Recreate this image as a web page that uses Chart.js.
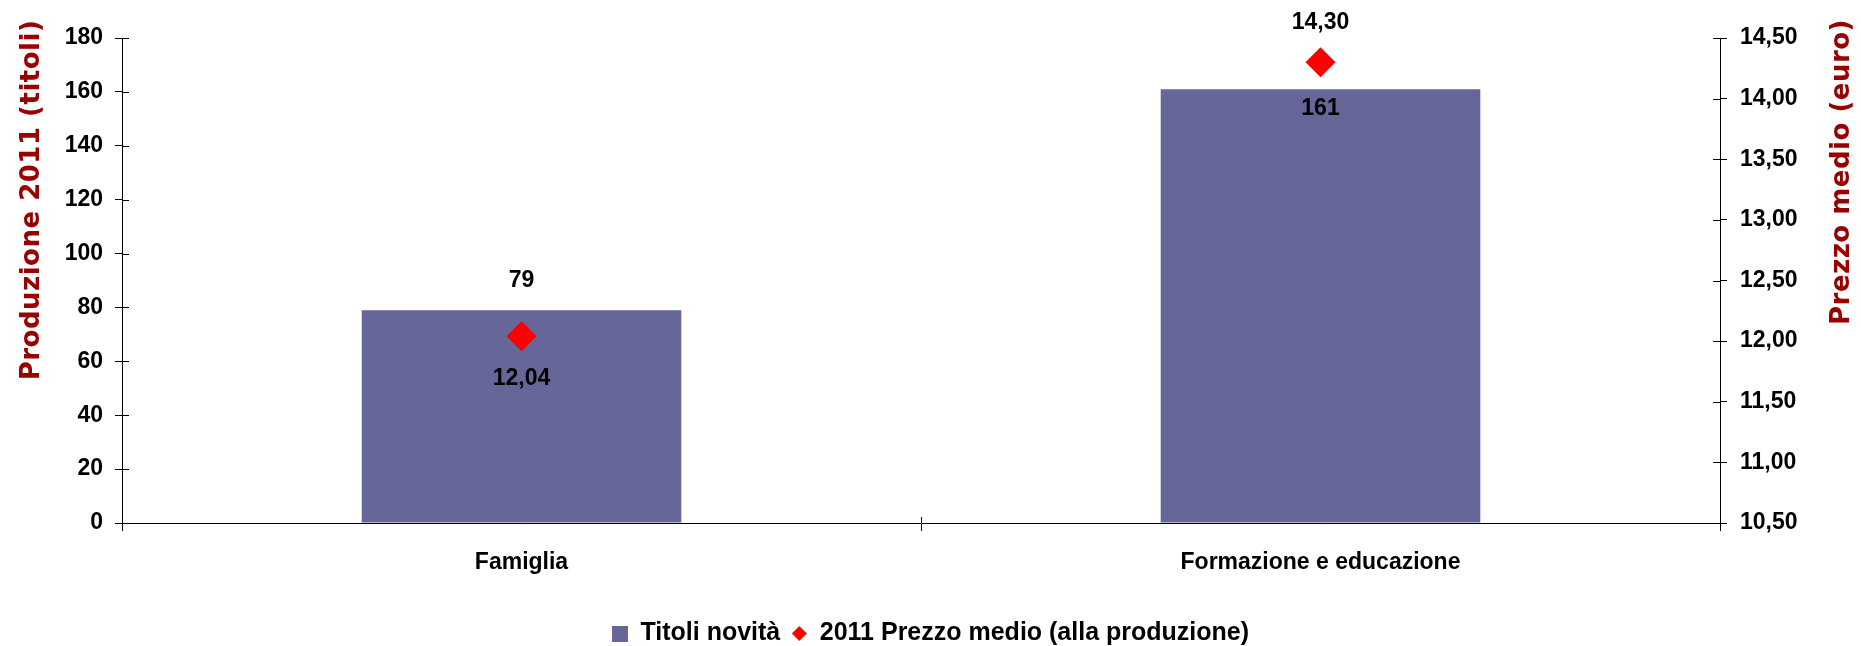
<!DOCTYPE html>
<html>
<head>
<meta charset="utf-8">
<script src="https://cdn.jsdelivr.net/npm/chart.js@4.4.1/dist/chart.umd.min.js"></script>
<style>
  html, body { margin: 0; padding: 0; background: #ffffff; }
  #wrap { width: 1861px; height: 646px; }
</style>
</head>
<body>
<div id="wrap"><canvas id="c" width="1861" height="646"></canvas></div>
<script>
// ---- data ----
const categories = ['Famiglia', 'Formazione e educazione'];
const titoliNovita = [79, 161];
const prezzoMedio = [12.04, 14.30];
const leftTicks = [0, 20, 40, 60, 80, 100, 120, 140, 160, 180];
const rightTicks = [10.5, 11, 11.5, 12, 12.5, 13, 13.5, 14, 14.5];
const seriesNames = ['Titoli novità', '2011 Prezzo medio (alla produzione)'];
const axisTitles = ['Produzione 2011 (titoli)', 'Prezzo medio (euro)'];
// label placement per point (style, not data)
const barLabelPlacement = ['above', 'inside'];
const priceLabelPlacement = ['below', 'above'];

const BAR_COLOR = '#666699';
const PT_COLOR = '#ff0000';
const TITLE_COLOR = '#990000';
const FONT = "'Liberation Sans', Arial, Helvetica, sans-serif";

const fmtComma = v => Number(v).toFixed(2).replace('.', ',');

function legendSquare() {
  const c = document.createElement('canvas');
  c.width = 16; c.height = 16;
  const g = c.getContext('2d');
  g.fillStyle = BAR_COLOR; g.fillRect(0, 0, 16, 16);
  return c;
}
function legendDiamond() {
  const c = document.createElement('canvas');
  c.width = 15; c.height = 15;
  const g = c.getContext('2d');
  g.fillStyle = PT_COLOR;
  g.beginPath(); g.moveTo(7.5, 0); g.lineTo(15, 7.5); g.lineTo(7.5, 15); g.lineTo(0, 7.5); g.closePath(); g.fill();
  return c;
}
const sqImg = legendSquare();
const dmImg = legendDiamond();

const valueLabels = {
  id: 'valueLabels',
  afterDatasetsDraw(chart) {
    const ctx = chart.ctx;
    ctx.save();
    ctx.font = 'bold 23px ' + FONT;
    ctx.fillStyle = '#000';
    ctx.textAlign = 'center';
    ctx.textBaseline = 'middle';
    const bars = chart.getDatasetMeta(0).data;
    bars.forEach((el, i) => {
      const off = barLabelPlacement[i] === 'above' ? -29 : 19;
      ctx.fillText(String(titoliNovita[i]), el.x, el.y + off);
    });
    const pts = chart.getDatasetMeta(1).data;
    pts.forEach((el, i) => {
      const off = priceLabelPlacement[i] === 'above' ? -40 : 42;
      ctx.fillText(fmtComma(prezzoMedio[i]), el.x, el.y + off);
    });
    ctx.restore();
  }
};

const axisDecor = {
  id: 'axisDecor',
  afterDraw(chart) {
    const ctx = chart.ctx;
    const { left, right, bottom } = chart.chartArea;
    const y = chart.scales.y, y2 = chart.scales.y2, x = chart.scales.x;
    ctx.save();
    ctx.strokeStyle = '#000';
    ctx.lineWidth = 1;
    ctx.beginPath();
    y.ticks.forEach((t, i) => {
      const p = Math.round(y.getPixelForTick(i)) + 0.5;
      ctx.moveTo(left, p); ctx.lineTo(left + 7, p);
    });
    y2.ticks.forEach((t, i) => {
      const p = Math.round(y2.getPixelForTick(i)) + 0.5;
      ctx.moveTo(right - 7, p); ctx.lineTo(right, p);
    });
    for (let i = 1; i < x.ticks.length; i++) {
      const p = Math.round((x.getPixelForTick(i - 1) + x.getPixelForTick(i)) / 2) + 0.5;
      ctx.moveTo(p, bottom - 6); ctx.lineTo(p, bottom);
    }
    ctx.stroke();

    // axis titles, reading bottom-to-top
    ctx.fillStyle = TITLE_COLOR;
    ctx.font = "bold 26px 'DejaVu Sans', Verdana, sans-serif";
    ctx.textAlign = 'center';
    ctx.textBaseline = 'middle';
    try { ctx.letterSpacing = '0.5px'; } catch (e) {}
    ctx.save();
    ctx.translate(32, 200);
    ctx.rotate(-Math.PI / 2);
    ctx.fillText(axisTitles[0], 0, 0);
    ctx.restore();
    ctx.save();
    ctx.translate(1842, 172);
    ctx.rotate(-Math.PI / 2);
    ctx.fillText(axisTitles[1], 0, 0);
    ctx.restore();
    ctx.restore();
  }
};

new Chart(document.getElementById('c'), {
  data: {
    labels: categories,
    datasets: [
      {
        type: 'bar',
        label: seriesNames[0],
        data: titoliNovita,
        yAxisID: 'y',
        backgroundColor: BAR_COLOR,
        borderWidth: 0,
        barPercentage: 0.4,
        categoryPercentage: 1.0,
        order: 2
      },
      {
        type: 'line',
        label: seriesNames[1],
        data: prezzoMedio,
        yAxisID: 'y2',
        showLine: false,
        pointStyle: 'rectRot',
        pointRadius: 15,
        pointHoverRadius: 15,
        pointBackgroundColor: PT_COLOR,
        pointBorderColor: PT_COLOR,
        pointBorderWidth: 0,
        backgroundColor: PT_COLOR,
        borderColor: PT_COLOR,
        clip: false,
        order: 1
      }
    ]
  },
  options: {
    responsive: false,
    animation: false,
    devicePixelRatio: 1,
    events: [],
    layout: { padding: { top: 38, left: 0, right: 0, bottom: -10 } },
    plugins: {
      tooltip: { enabled: false },
      legend: {
        display: true,
        position: 'bottom',
        labels: {
          usePointStyle: true,
          boxWidth: 16,
          padding: 11,
          color: '#000',
          font: { family: FONT, size: 25, weight: 'bold' },
          generateLabels: () => [
            { text: seriesNames[0], pointStyle: sqImg, fillStyle: BAR_COLOR, strokeStyle: BAR_COLOR, lineWidth: 0, datasetIndex: 0, fontColor: '#000' },
            { text: seriesNames[1], pointStyle: dmImg, fillStyle: PT_COLOR, strokeStyle: PT_COLOR, lineWidth: 0, datasetIndex: 1, fontColor: '#000' }
          ]
        }
      }
    },
    scales: {
      x: {
        type: 'category',
        offset: true,
        grid: { offset: true, drawOnChartArea: false, drawTicks: true, tickLength: 8, color: '#000', lineWidth: 1 },
        border: { display: true, color: '#000', width: 1 },
        ticks: { color: '#000', padding: 18, font: { family: FONT, size: 23, weight: 'bold' }, maxRotation: 0 },
        afterFit: s => { s.height = 87; }
      },
      y: {
        position: 'left',
        min: leftTicks[0],
        max: leftTicks[leftTicks.length - 1],
        ticks: { stepSize: leftTicks[1] - leftTicks[0], color: '#000', padding: 12, font: { family: FONT, size: 23, weight: 'bold' } },
        grid: { drawOnChartArea: false, tickLength: 7, color: '#000', lineWidth: 1 },
        border: { display: true, color: '#000', width: 1 },
        afterFit: s => { s.width = 122; }
      },
      y2: {
        position: 'right',
        min: rightTicks[0],
        max: rightTicks[rightTicks.length - 1],
        ticks: { stepSize: rightTicks[1] - rightTicks[0], color: '#000', padding: 13, font: { family: FONT, size: 23, weight: 'bold' }, callback: v => fmtComma(v) },
        grid: { drawOnChartArea: false, tickLength: 7, color: '#000', lineWidth: 1 },
        border: { display: true, color: '#000', width: 1 },
        afterFit: s => { s.width = 141; }
      }
    }
  },
  plugins: [valueLabels, axisDecor]
});
</script>
</body>
</html>
